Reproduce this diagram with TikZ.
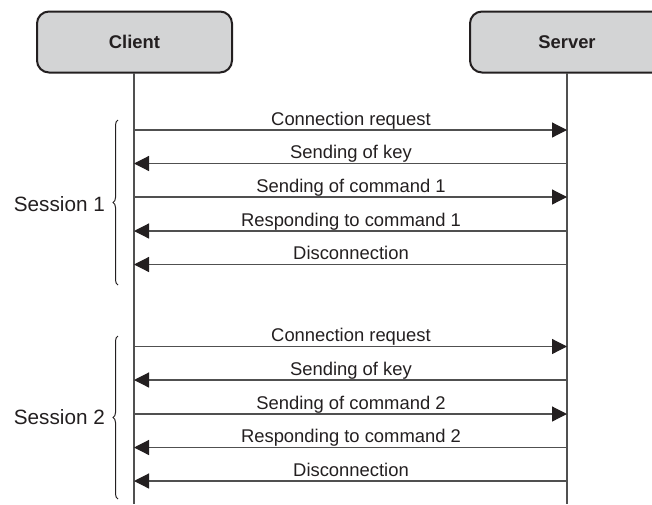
\documentclass[tikz,border=0pt]{standalone}
\usepackage{fontspec}
\setmainfont{Liberation Sans}
\usetikzlibrary{arrows.meta,decorations.pathreplacing}
\definecolor{boxfill}{HTML}{D3D4D5}
\definecolor{boxline}{HTML}{231F20}
\definecolor{lineclr}{HTML}{505050}
\tikzset{
  actor/.style={draw=boxline, line width=2pt, fill=boxfill, rounded corners=12pt, minimum height=61pt, inner sep=0pt, font=\fontsize{18.4}{22}\selectfont\bfseries, text=boxline},
  lifeline/.style={draw=lineclr, line width=1.2pt},
  msg/.style={draw=lineclr, line width=1.2pt, -{Triangle[length=15pt,width=15pt,color=boxline]}},
  msglabel/.style={anchor=base, font=\fontsize{18.4}{22}\selectfont, text=boxline, inner sep=0pt},
  sessbrace/.style={draw=boxline, line width=1pt, decorate, decoration={brace, amplitude=5pt, mirror}},
  sesslabel/.style={anchor=east, font=\fontsize{20.7}{24}\selectfont, text=boxline, inner sep=0pt}
}
\begin{document}
\begin{tikzpicture}[x=1pt, y=-1pt]
\useasboundingbox (0,0) rectangle (652,504);
\clip (0,0) rectangle (652,504);
% actors
\node[actor, minimum width=195pt] (client) at (134.5,42) {};
\node[actor, minimum width=196pt, anchor=west] (serverbox) at (469,42) {};
\node[font=\fontsize{18.4}{22}\selectfont\bfseries, text=boxline, inner sep=0pt] (clienttext) at (134.5,42) {Client};
\node[font=\fontsize{18.4}{22}\selectfont\bfseries, text=boxline, inner sep=0pt] (servertext) at (567,42) {Server};
% lifelines
\coordinate (cTop) at (134,73);
\coordinate (sTop) at (567,73);
\coordinate (cBot) at (134,504);
\coordinate (sBot) at (567,504);
\draw[lifeline] (cTop) -- (cBot);
\draw[lifeline] (sTop) -- (sBot);
% message coordinates
\foreach \n/\y in {a/130, b/163.5, c/197, d/231, e/264.5, f/346.5, g/380, h/414, i/447.5, j/481}{
  \coordinate (c\n) at (134,\y);
  \coordinate (s\n) at (567,\y);
}
% session 1
\draw[msg] (ca) -- (sa);
\draw[msg] (sb) -- (cb);
\draw[msg] (cc) -- (sc);
\draw[msg] (sd) -- (cd);
\draw[msg] (se) -- (ce);
\node[msglabel] (la) at (351,125) {Connection request};
\node[msglabel] (lb) at (351,158.5) {Sending of key};
\node[msglabel] (lc) at (351,192) {Sending of command 1};
\node[msglabel] (ld) at (351,226) {Responding to command 1};
\node[msglabel] (le) at (351,259.5) {Disconnection};
% session 2
\draw[msg] (cf) -- (sf);
\draw[msg] (sg) -- (cg);
\draw[msg] (ch) -- (sh);
\draw[msg] (si) -- (ci);
\draw[msg] (sj) -- (cj);
\node[msglabel] (lf) at (351,341.5) {Connection request};
\node[msglabel] (lg) at (351,375) {Sending of key};
\node[msglabel] (lh) at (351,409) {Sending of command 2};
\node[msglabel] (li) at (351,442.5) {Responding to command 2};
\node[msglabel] (lj) at (351,476) {Disconnection};
% braces
\coordinate (b1t) at (118,120);
\coordinate (b1b) at (118,285);
\coordinate (b2t) at (118,336);
\coordinate (b2b) at (118,499);
\draw[sessbrace] (b1t) -- (b1b);
\draw[sessbrace] (b2t) -- (b2b);
\node[sesslabel] (s1) at (105,204) {Session 1};
\node[sesslabel] (s2) at (105,417) {Session 2};
\end{tikzpicture}
\end{document}
